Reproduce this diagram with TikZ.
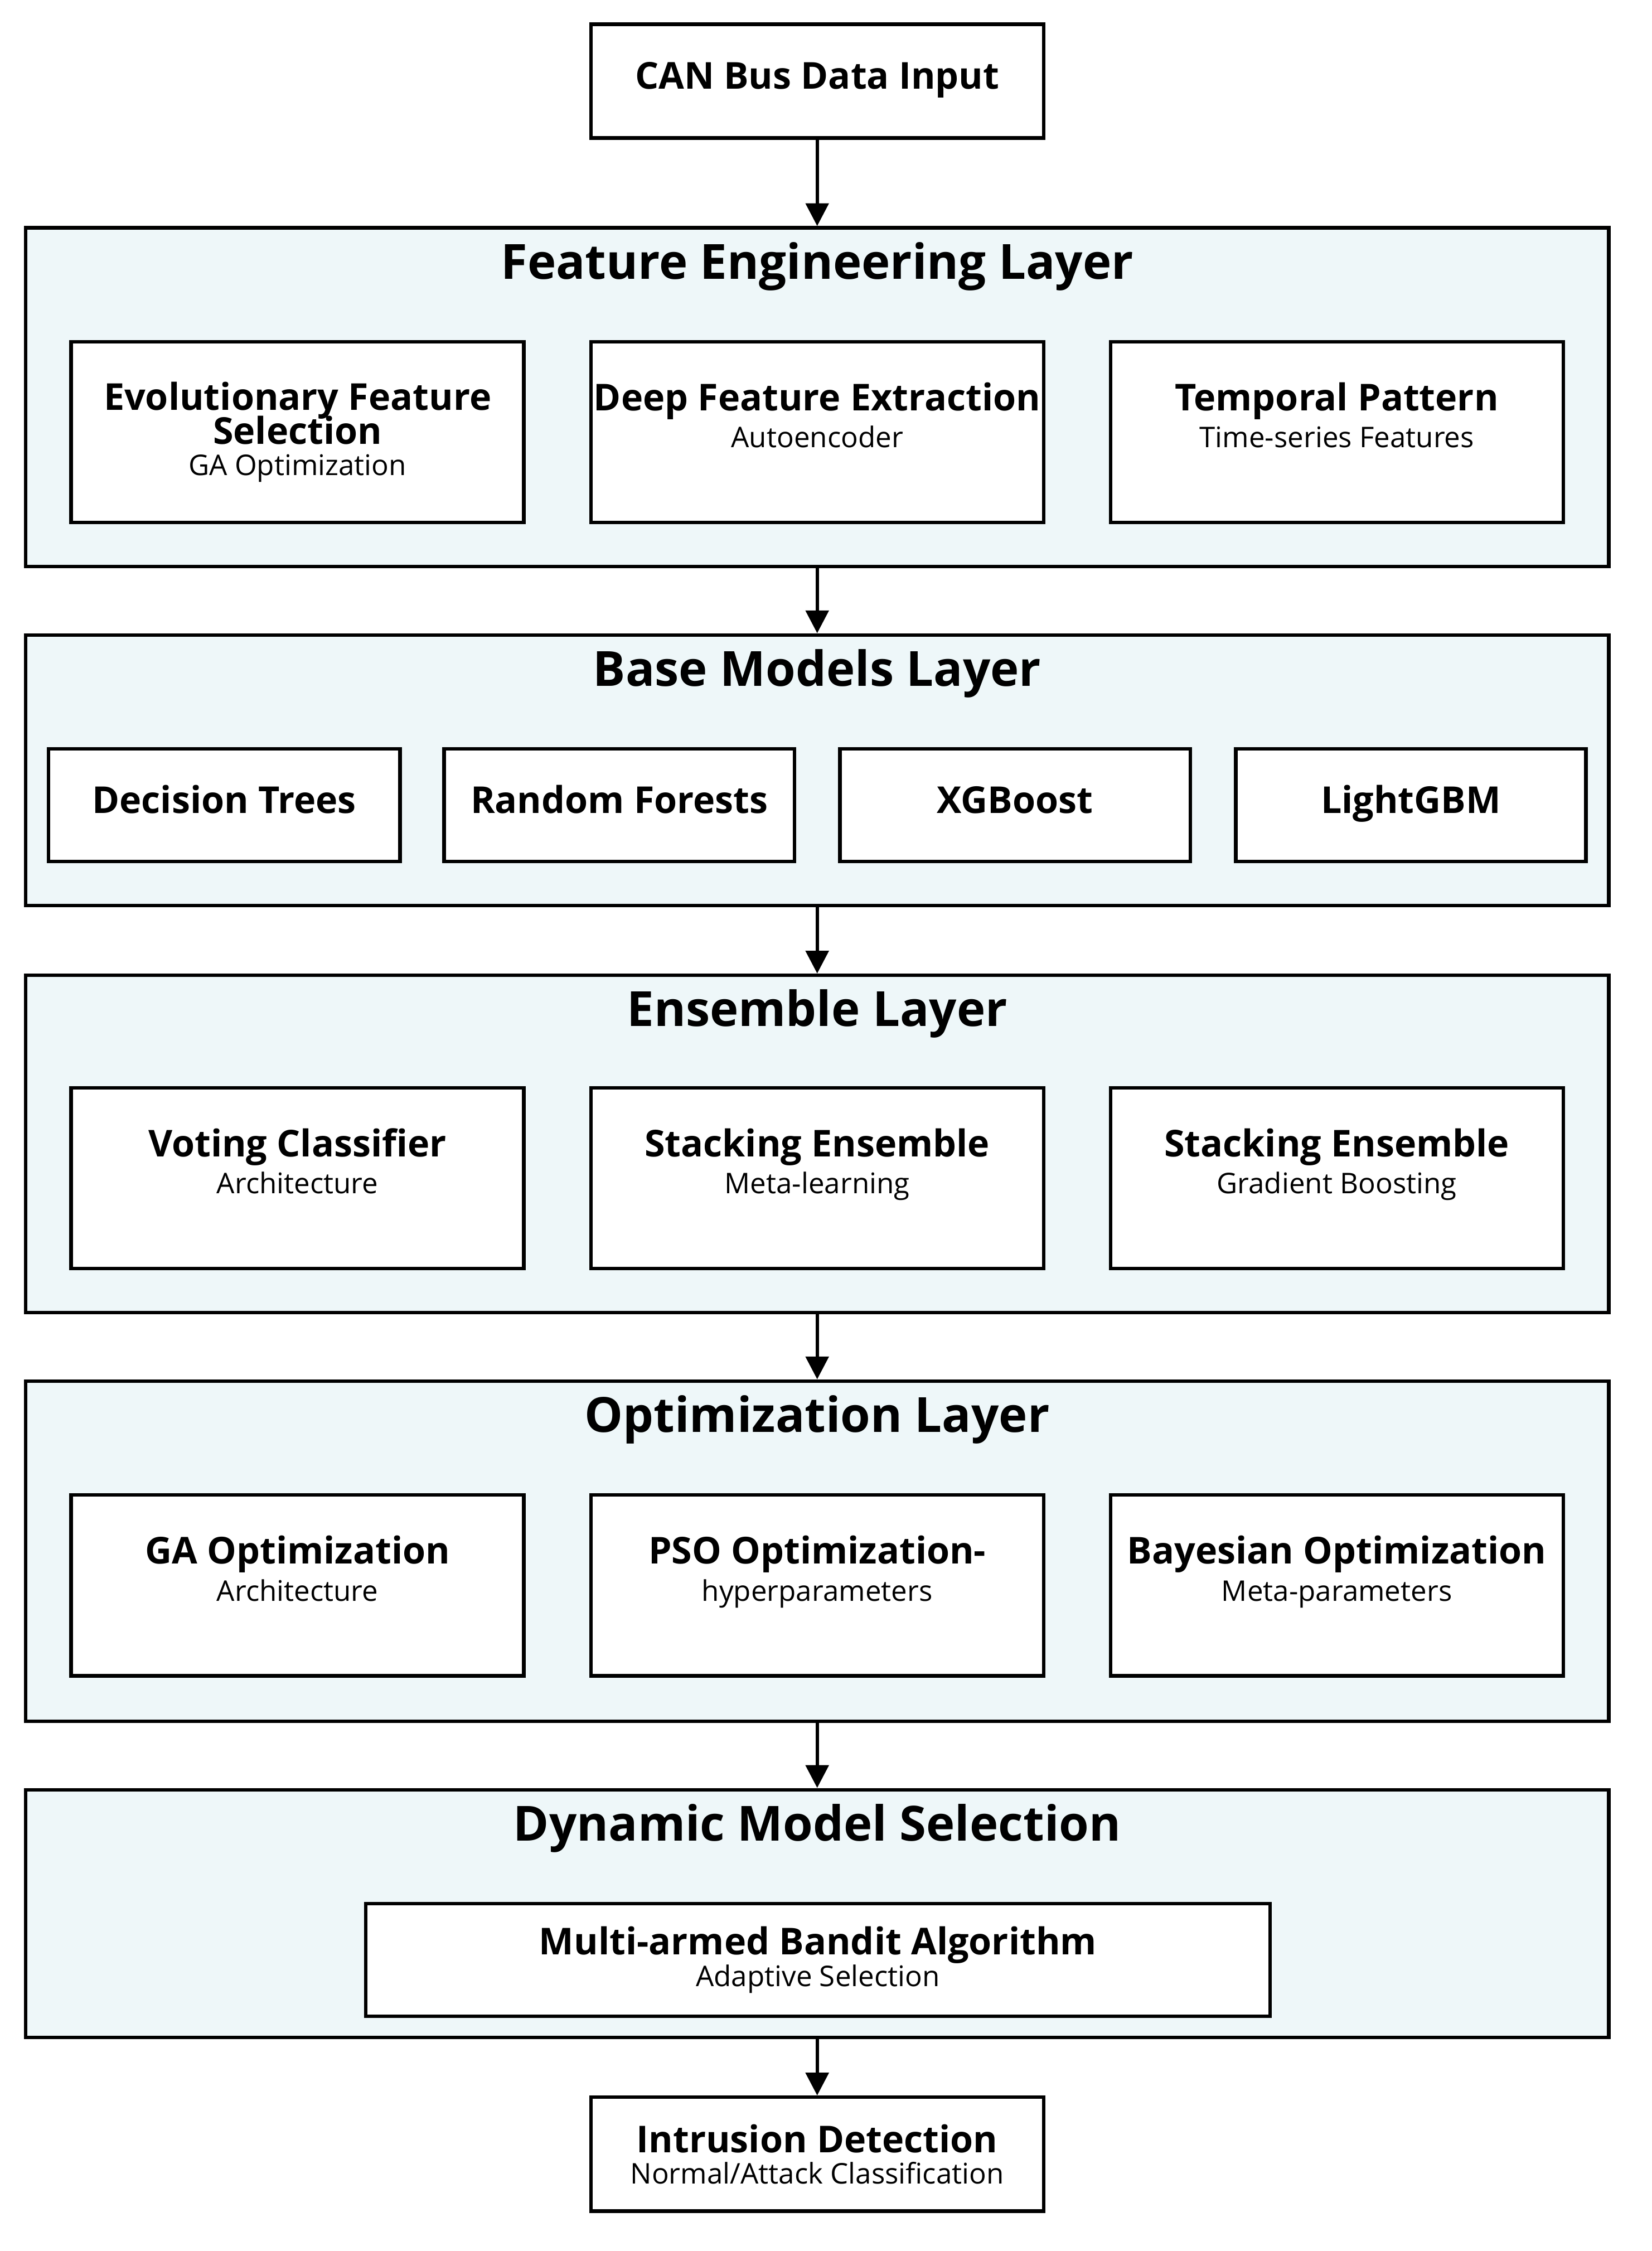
\documentclass[tikz,border=0pt]{standalone}
\usepackage{fontspec}
\setmainfont{Open Sans}
\usetikzlibrary{arrows.meta}
\definecolor{layerfill}{HTML}{EEF7F9}
\newcommand{\sbt}{\fontsize{20}{22}\selectfont\mdseries}
\begin{document}
\begin{tikzpicture}[x=1pt,y=-1pt,
  layer/.style={draw,line width=2.5pt,fill=layerfill,inner sep=0pt},
  box/.style={draw,line width=2.5pt,fill=white,inner sep=0pt,align=center,font=\fontsize{26}{28}\selectfont\bfseries},
  ttl/.style={font=\fontsize{34}{38}\selectfont\bfseries},
  arr/.style={-{Triangle[length=16pt,width=16pt]},line width=2.5pt}]
\useasboundingbox (0,0) rectangle (1160,1581);
\newcommand{\bx}[6]{\node[box,minimum width=#4-#2,minimum height=#5-#3] (#1) at ({(#2+#4)/2},{(#3+#5)/2}) {#6};}
\newcommand{\ly}[5]{\node[layer,minimum width=#4-#2,minimum height=#5-#3] (#1) at ({(#2+#4)/2},{(#3+#5)/2}) {};}
\bx{in}{415}{17}{733}{97}{CAN Bus Data Input\strut}
\ly{L1}{18}{160}{1130}{398}
\node[ttl] (t1) at (574,187) {Feature Engineering Layer};
\bx{a1}{50}{240}{368}{367}{Evolutionary Feature\\[-4pt]Selection\\[-6pt]{\sbt GA Optimization}}
\bx{a2}{415}{240}{733}{367}{Deep Feature Extraction\\[-2pt]{\sbt Autoencoder}\\[-4pt]}
\bx{a3}{780}{240}{1098}{367}{Temporal Pattern\\[-2pt]{\sbt Time-series Features}\\[-4pt]}
\ly{L2}{18}{446}{1130}{636}
\node[ttl] (t2) at (574,473) {Base Models Layer};
\bx{b1}{34}{526}{281}{605}{Decision Trees\strut}
\bx{b2}{312}{526}{558}{605}{Random Forests\strut}
\bx{b3}{590}{526}{836}{605}{XGBoost\strut}
\bx{b4}{868}{526}{1114}{605}{LightGBM\strut}
\ly{L3}{18}{685}{1130}{922}
\node[ttl] (t3) at (574,712) {Ensemble Layer};
\bx{c1}{50}{764}{368}{891}{Voting Classifier\\[-2pt]{\sbt Architecture}\\[-4pt]}
\bx{c2}{415}{764}{733}{891}{Stacking Ensemble\\[-2pt]{\sbt Meta-learning}\\[-4pt]}
\bx{c3}{780}{764}{1098}{891}{Stacking Ensemble\\[-2pt]{\sbt Gradient Boosting}\\[-4pt]}
\ly{L4}{18}{970}{1130}{1209}
\node[ttl] (t4) at (574,997) {Optimization Layer};
\bx{d1}{50}{1050}{368}{1177}{GA Optimization\\[-2pt]{\sbt Architecture}\\[-4pt]}
\bx{d2}{415}{1050}{733}{1177}{PSO Optimization-\\[-2pt]{\sbt hyperparameters}\\[-4pt]}
\bx{d3}{780}{1050}{1098}{1177}{Bayesian Optimization\\[-2pt]{\sbt Meta-parameters}\\[-4pt]}
\ly{L5}{18}{1257}{1130}{1431}
\node[ttl] (t5) at (574,1284) {Dynamic Model Selection};
\bx{e1}{257}{1337}{892}{1416}{Multi-armed Bandit Algorithm\\[-6pt]{\sbt Adaptive Selection}}
\bx{out}{415}{1473}{733}{1553}{Intrusion Detection\\[-6pt]{\sbt Normal/Attack Classification}}
\draw[arr] (in) -- (L1);
\draw[arr] (L1) -- (L2);
\draw[arr] (L2) -- (L3);
\draw[arr] (L3) -- (L4);
\draw[arr] (L4) -- (L5);
\draw[arr] (L5) -- (out);
\end{tikzpicture}
\end{document}
